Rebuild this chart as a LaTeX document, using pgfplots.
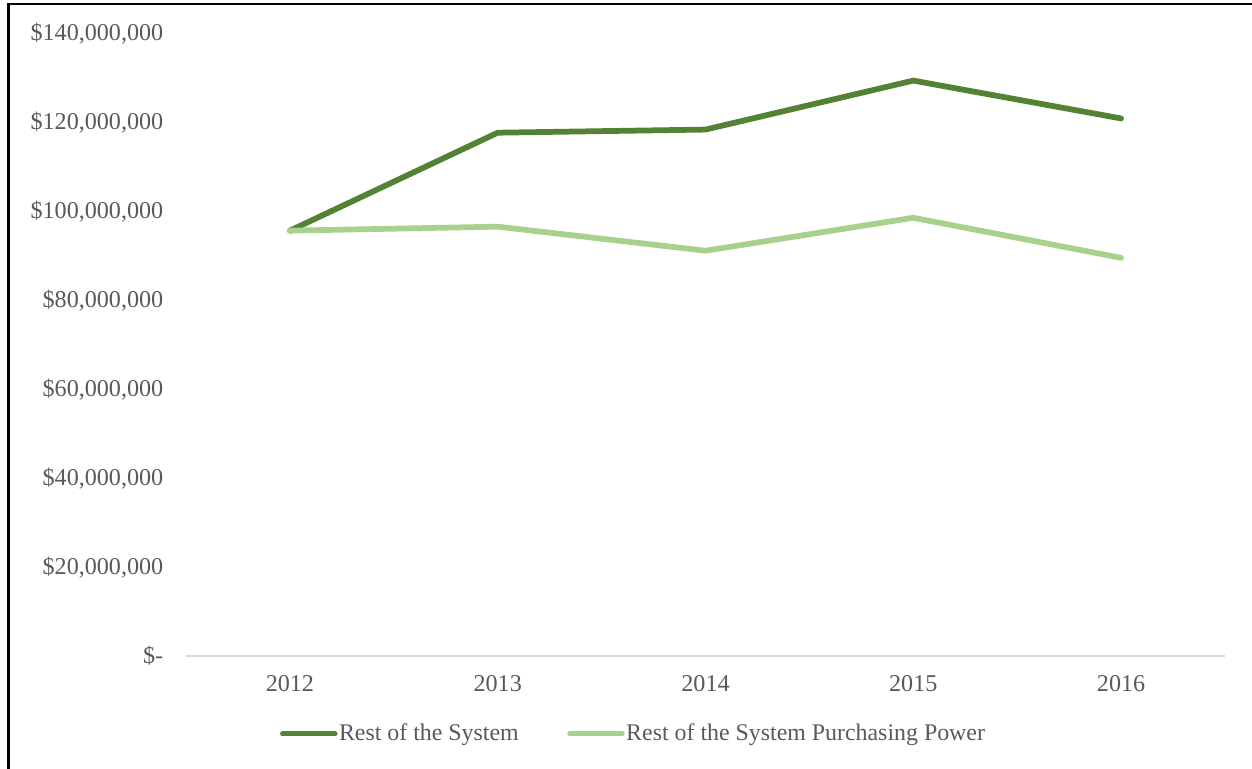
\documentclass[border=0pt]{standalone}
\usepackage{pgfplots}
\pgfplotsset{compat=1.18}
\usepackage{fontspec}
\setmainfont{Liberation Serif}
\definecolor{darkg}{RGB}{84,130,53}
\definecolor{lightg}{RGB}{169,209,142}
\definecolor{txt}{RGB}{89,89,89}
\definecolor{axl}{RGB}{217,217,217}
\begin{document}
\begin{tikzpicture}
\path[use as bounding box] (0,0) rectangle (500.8pt,307.6pt);
\draw[line width=1.2pt] (3.2pt,0) -- (3.2pt,306pt);
\draw[line width=0.8pt] (2.6pt,306pt) -- (500.8pt,306pt);
\begin{axis}[
  at={(74.4pt,45.2pt)}, anchor=south west,
  scale only axis, width=415.6pt, height=249.4pt,
  xmin=-0.5, xmax=4.5, ymin=0, ymax=140000000,
  scaled y ticks=false,
  axis x line*=bottom, axis y line*=left,
  y axis line style={draw=none},
  x axis line style={draw=axl, line width=0.6pt, -},
  major tick length=0pt,
  xtick={0,1,2,3,4}, xticklabels={2012,2013,2014,2015,2016},
  ytick={0,20000000,40000000,60000000,80000000,100000000,120000000,140000000},
  yticklabels={\$-\hspace{4.8pt},{\$20,000,000},{\$40,000,000},{\$60,000,000},{\$80,000,000},{\$100,000,000},{\$120,000,000},{\$140,000,000}},
  tick label style={font=\fontsize{9.65}{11}\selectfont, text=txt},
  xticklabel style={anchor=base, yshift=-14.4pt, inner sep=0pt},
  yticklabel style={anchor=base east, inner sep=0pt, xshift=-8.9pt, yshift=-3.2pt},
  legend columns=2,
  legend style={at={(0.0905,-0.1251)}, anchor=west, draw=none, fill=none, inner sep=0pt, outer sep=0pt,
    font=\fontsize{9.55}{11}\selectfont, text=txt,
    nodes={inner sep=0.6pt},
    /tikz/every even column/.append style={column sep=18.8pt}},
  legend image code/.code={\draw[line width=2pt, line cap=round] (1pt,0pt) -- (22pt,0pt);},
  clip=false,
]
\addplot[darkg, line width=2.3pt, line cap=round] coordinates {
  (0,95500000) (1,117500000) (2,118200000) (3,129200000) (4,120700000)};
\addlegendentry{Rest of the System}
\addplot[lightg, line width=2.3pt, line cap=round] coordinates {
  (0,95500000) (1,96400000) (2,91000000) (3,98400000) (4,89400000)};
\addlegendentry{Rest of the System Purchasing Power}
\end{axis}
\end{tikzpicture}
\end{document}
